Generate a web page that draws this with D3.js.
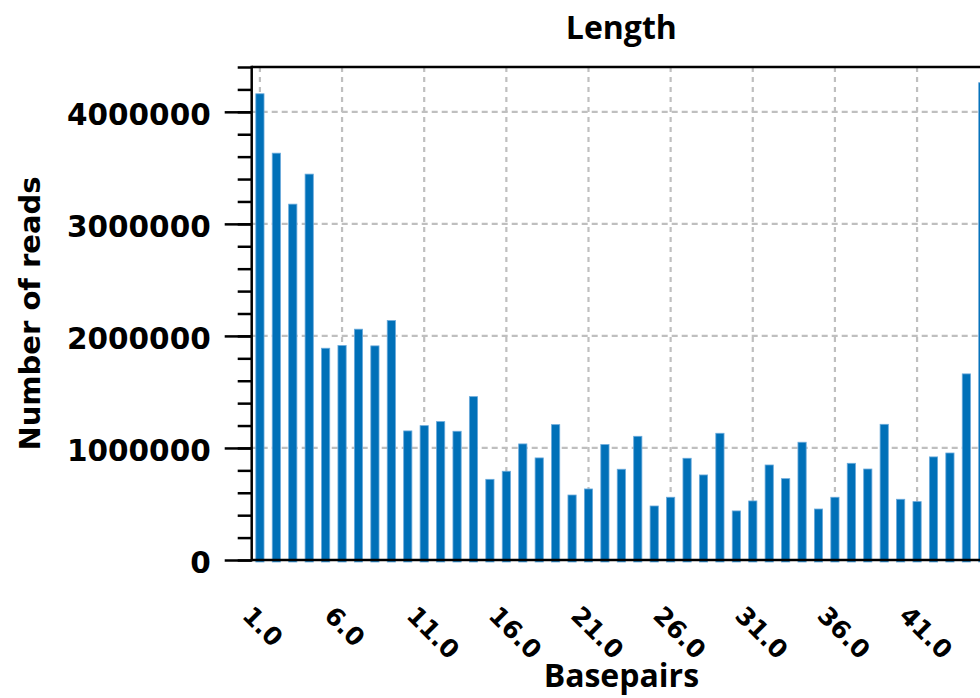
<!DOCTYPE html>
<html>
<head>
<meta charset="utf-8">
<script src="https://cdn.jsdelivr.net/npm/d3@7"></script>
<style>
  html, body { margin: 0; padding: 0; background: #fff; overflow: hidden; }
  svg { display: block; }
</style>
</head>
<body>
<div id="chart"></div>
<script>
// read lengths 1..45 bp
const basepairs = d3.range(1, 46);
const reads = [
  4161000, 3631000, 3176000, 3444000, 1890000, 1914000, 2060000, 1911000, 2137000, 1152000,
  1199000, 1235000, 1149000, 1458000, 720000, 792000, 1036000, 911000, 1208000, 580000,
  634000, 1030000, 810000, 1104000, 482000, 560000, 908000, 759000, 1131000, 438000,
  527000, 848000, 726000, 1051000, 455000, 560000, 863000, 812000, 1211000, 542000,
  521000, 920000, 955000, 1661000, 4260000
];
const xTicks = [1, 6, 11, 16, 21, 26, 31, 36, 41];
const yTicks = [0, 1000000, 2000000, 3000000, 4000000];
const yMinorTicks = d3.range(0, 4400001, 200000);

const width = 980;
const height = 698;
const margin = { top: 67, left: 251.7, bottom: 138 };
const plotRight = 991;   // plot runs past the right edge of the window
const plotBottom = height - margin.bottom;

const svg = d3.select('#chart')
  .append('svg')
  .attr('width', width)
  .attr('height', height);

const x = d3.scaleBand()
  .domain(basepairs)
  .range([margin.left, plotRight])
  .paddingInner(0.5)
  .paddingOuter(0.25);

const y = d3.scaleLinear()
  .domain([0, 4400000])
  .range([plotBottom, margin.top]);

const cx = d => x(d) + x.bandwidth() / 2;

// grid
const grid = svg.append('g')
  .attr('stroke', '#bfbfbf')
  .attr('stroke-width', 2.2);

grid.selectAll('line.h')
  .data(yTicks.slice(1))
  .enter()
  .append('line')
  .attr('stroke-dasharray', '6,4')
  .attr('x1', margin.left)
  .attr('x2', plotRight)
  .attr('y1', d => y(d))
  .attr('y2', d => y(d));

grid.selectAll('line.v')
  .data(xTicks)
  .enter()
  .append('line')
  .attr('stroke-dasharray', '5,5')
  .attr('x1', cx)
  .attr('x2', cx)
  .attr('y1', margin.top)
  .attr('y2', plotBottom);

// bars
svg.append('g')
  .selectAll('rect')
  .data(basepairs)
  .enter()
  .append('rect')
  .attr('x', d => x(d))
  .attr('width', x.bandwidth())
  .attr('y', (d, i) => y(reads[i]))
  .attr('height', (d, i) => plotBottom + 2 - y(reads[i]))
  .attr('fill', '#0070b8')
  .attr('stroke', '#6aaadb')
  .attr('stroke-width', 0.8);

// y axis, minor then major ticks
svg.append('g')
  .attr('transform', `translate(${margin.left},0)`)
  .call(d3.axisLeft(y).tickValues(yMinorTicks).tickSize(14).tickFormat(''))
  .call(g => g.select('.domain').remove())
  .call(g => g.selectAll('line').attr('stroke', '#000').attr('stroke-width', 2.5));

svg.append('g')
  .attr('transform', `translate(${margin.left},0)`)
  .call(d3.axisLeft(y).tickValues(yTicks).tickSize(27).tickPadding(14).tickFormat(d3.format('d')))
  .call(g => g.select('.domain').remove())
  .call(g => g.selectAll('line').attr('stroke', '#000').attr('stroke-width', 2.5))
  .call(g => g.selectAll('text')
    .attr('dy', 12.7)
    .style('font-family', 'DejaVu Sans')
    .style('font-weight', 'bold')
    .style('font-size', '29.5px')
    .attr('fill', '#000'));

// x axis labels, rotated
svg.append('g')
  .attr('transform', `translate(0,${plotBottom})`)
  .call(d3.axisBottom(x).tickValues(xTicks).tickSize(0).tickFormat(d3.format('.1f')))
  .call(g => g.select('.domain').remove())
  .call(g => g.selectAll('text')
    .attr('y', 0)
    .attr('dy', 0)
    .attr('transform', 'translate(-19,57) rotate(45)')
    .attr('text-anchor', 'start')
    .style('font-family', 'DejaVu Sans')
    .style('font-weight', 'bold')
    .style('font-size', '25px')
    .attr('fill', '#000'));

// frame
const frame = svg.append('g')
  .attr('stroke', '#000')
  .attr('stroke-width', 2.5);
frame.append('line')
  .attr('x1', margin.left).attr('x2', plotRight)
  .attr('y1', margin.top).attr('y2', margin.top);
frame.append('line')
  .attr('x1', margin.left).attr('x2', plotRight)
  .attr('y1', plotBottom).attr('y2', plotBottom);
frame.append('line')
  .attr('x1', margin.left).attr('x2', margin.left)
  .attr('y1', margin.top - 1.25).attr('y2', plotBottom + 1.25);

// titles
const midX = (margin.left + plotRight) / 2;

svg.append('text')
  .attr('x', midX)
  .attr('y', 39)
  .attr('text-anchor', 'middle')
  .style('font-family', 'Open Sans')
  .style('font-weight', 'bold')
  .style('font-size', '32px')
  .text('Length');

svg.append('text')
  .attr('x', midX)
  .attr('y', 687)
  .attr('text-anchor', 'middle')
  .style('font-family', 'Open Sans')
  .style('font-weight', 'bold')
  .style('font-size', '32px')
  .text('Basepairs');

svg.append('text')
  .attr('transform', `translate(39.5,${(margin.top + plotBottom) / 2}) rotate(-90)`)
  .attr('text-anchor', 'middle')
  .style('font-family', 'DejaVu Sans')
  .style('font-weight', 'bold')
  .style('font-size', '29px')
  .text('Number of reads');
</script>
</body>
</html>
